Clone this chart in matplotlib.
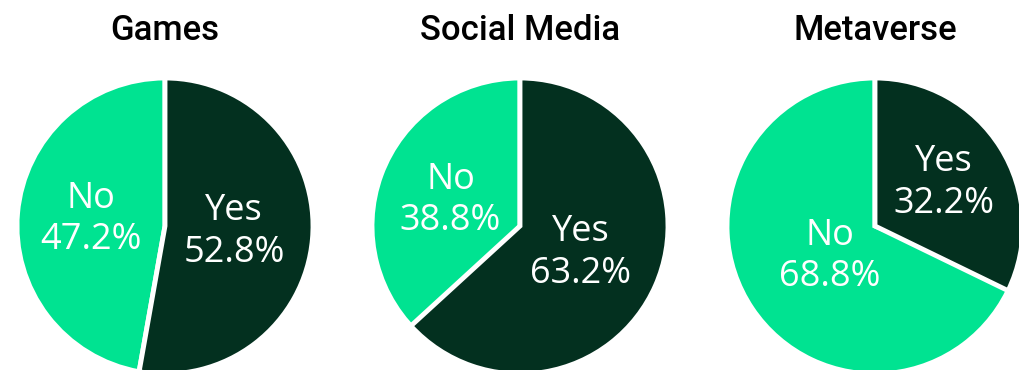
import matplotlib.pyplot as plt
import numpy as np

titles = ["Games", "Social Media", "Metaverse"]
yes_pct = [52.8, 63.2, 32.2]
no_pct = [47.2, 38.8, 68.8]

dark = "#03301f"
light = "#00e391"

W, H = 1020, 370
fig = plt.figure(figsize=(W / 100, H / 100), dpi=100)

# pie centres in pixels (from the top-left), shared radius
centers_x = [165, 520, 875]
center_y = 226
radius = 148
# how far out (fraction of radius) each Yes / No label sits
label_r = [(0.47, 0.5), (0.45, 0.5), (0.55, 0.37)]

edge = dict(edgecolor="white", linewidth=3.5)

for i, title in enumerate(titles):
    cx = centers_x[i]
    ax = fig.add_axes([(cx - radius) / W, (H - center_y - radius) / H,
                       2 * radius / W, 2 * radius / H])
    # No runs counter-clockwise from 12 o'clock, Yes clockwise and on top
    ax.pie([no_pct[i] / 100], startangle=90, counterclock=True,
           colors=[light], normalize=False, wedgeprops=edge)
    ax.pie([yes_pct[i] / 100], startangle=90, counterclock=False,
           colors=[dark], normalize=False, wedgeprops=edge)
    ax.set_xlim(-1, 1)
    ax.set_ylim(-1, 1)
    ax.axis("off")

    yes_mid = np.deg2rad(90 - 360 * yes_pct[i] / 200)
    no_mid = np.deg2rad(90 + 360 * no_pct[i] / 200)
    ry, rn = label_r[i]
    ax.text(ry * np.cos(yes_mid), ry * np.sin(yes_mid), f"Yes\n{yes_pct[i]:.1f}%",
            ha="center", va="center", color="white", fontsize=26,
            family="Open Sans", linespacing=1.2)
    ax.text(rn * np.cos(no_mid), rn * np.sin(no_mid), f"No\n{no_pct[i]:.1f}%",
            ha="center", va="center", color="white", fontsize=26,
            family="Open Sans", linespacing=1.2)

    fig.text(cx / W, 1 - 30 / H, title, ha="center", va="center",
             fontsize=25, family="Roboto", fontweight="medium", color="black")

fig.savefig("out.png", dpi=100)
